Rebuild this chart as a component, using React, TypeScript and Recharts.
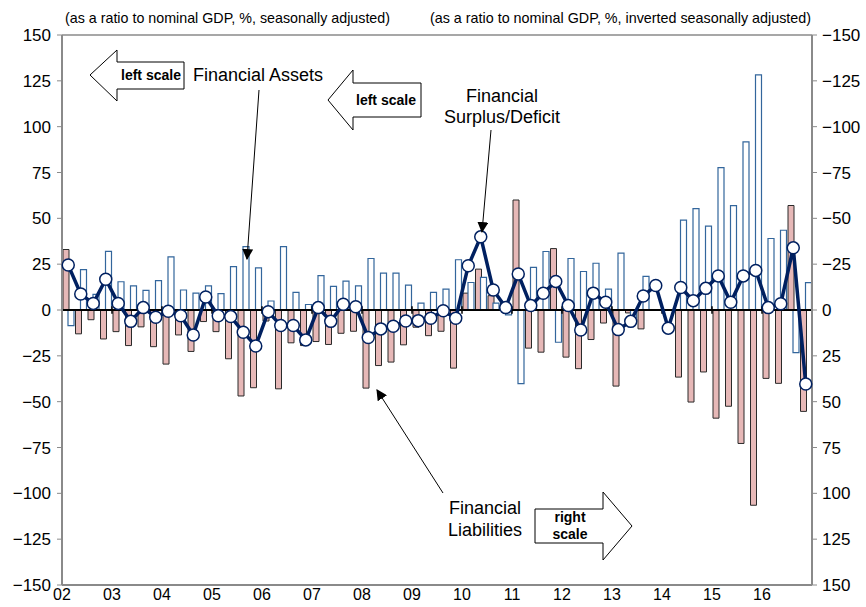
import React from 'react'
import { ComposedChart, Bar, Line, XAxis, YAxis, ReferenceLine } from 'recharts'

const years = ['02', '03', '04', '05', '06', '07', '08', '09', '10', '11', '12', '13', '14', '15', '16']
const quarterNames = ['Q1', 'Q2', 'Q3', 'Q4']

// Financial Assets, left scale
const assets = [
  -8.5, 22, 8.5, 32, 15.4, 13.2, 10.7, 16, 29, 10.9, 9.2, 13.2, 8.9, 23.7, 34.6, 23,
  4.9, 34.6, 9.6, 3, 18.7, 12.9, 15.8, 13.2, 28.1, 20.1, 20.1, 13.6, 3.8, 9.6, 11.4, 27.4,
  15, 17.8, 3.8, -2.7, -40.2, 23.2, 31.9, -17.6, 28.1, 21, 25.5, 11.4, 31, -4, 18.3, 0,
  0, 49, 55.3, 45.8, 77.7, 56.9, 91.7, 128.3, 39, 43.5, -23.2, 14.9,
]

// Financial Liabilities, right scale (inverted)
const liabilities = [
  -33, 13, 5.3, 15.8, 11.8, 19.4, 9.2, 20, 29.5, 13.6, 22.6, 6.3, 11.8, 26.6, 46.9, 42.4,
  6, 43, 17.9, 19.4, 17.2, 18.8, 12.7, 11.6, 42.6, 30.3, 28.4, 19, 9.4, 14, 11.6, 31.7,
  -9.2, -22.3, -7.8, -4, -60, 20.8, 23, -33.5, 25.7, 32, 16.1, 7.1, 41.5, 1.6, 10.3, 0,
  0, 36.6, 50.2, 33.8, 59, 52.5, 72.8, 106.5, 37.3, 40, -57, 55.3,
]

// Financial Surplus/Deficit, left scale
const surplus = [
  24.5, 8.7, 3.6, 16.8, 3.6, -6.2, 1.3, -4, -0.7, -3.1, -13.6, 7.1, -3.1, -3.6, -12.1, -19.6,
  -0.9, -8.5, -8.5, -16.3, 1.3, -6.2, 3.1, 1.8, -15, -10.3, -8.9, -6, -5.8, -4.5, -0.4, -4.5,
  24.1, 39.9, 10.9, 1.3, 19.6, 2.4, 9.1, 15.6, 2.4, -10.9, 9.2, 4.2, -10.7, -6.2, 7.6, 13.4,
  -9.9, 12.3, 5.1, 11.8, 18.6, 4.2, 18.6, 21.6, 1.3, 3.4, 33.9, -40.4,
]

const yTicks = [-150, -125, -100, -75, -50, -25, 0, 25, 50, 75, 100, 125, 150]

const quarters = years.flatMap((y) => quarterNames.map((q) => `${y}${q}`))
const data = quarters.map((q, i) => ({
  pos: i + 0.5,
  q,
  assets: assets[i],
  liabilities: liabilities[i],
  surplus: surplus[i],
}))
const yearTicks = years.map((_, i) => i * 4)

const fmt = (v: number) => (v < 0 ? `\u2212${Math.abs(v)}` : `${v}`)
const FONT = '"Liberation Sans", Arial, Helvetica, sans-serif'
const AXIS_GRAY = '#8a8a8a'

function Annotations() {
  return (
    <svg width={866} height={607} style={{ position: 'absolute', left: 0, top: 0, pointerEvents: 'none', fontFamily: FONT }}>
      <defs>
        <marker id="head" viewBox="0 0 10 10" refX="9" refY="5" markerWidth="11" markerHeight="11" markerUnits="userSpaceOnUse" orient="auto">
          <path d="M0,0 L10,5 L0,10 z" fill="#000" />
        </marker>
      </defs>

      <text x={65} y={23} fontSize={14.2} fill="#000" textLength={325} lengthAdjust="spacingAndGlyphs">(as a ratio to nominal GDP, %, seasonally adjusted)</text>
      <text x={430} y={23} fontSize={14.2} fill="#000" textLength={381} lengthAdjust="spacingAndGlyphs">(as a ratio to nominal GDP, %, inverted seasonally adjusted)</text>

      {/* left scale arrows */}
      <polygon points="90,75 117,50 117,62 184,62 184,89 117,89 117,101" fill="#fff" stroke="#000" strokeWidth={1} />
      <text x={151} y={80} fontSize={14} fontWeight="bold" textAnchor="middle">left scale</text>
      <polygon points="328,100 353,70 353,83 421,83 421,117 353,117 353,130" fill="#fff" stroke="#000" strokeWidth={1} />
      <text x={386} y={105} fontSize={14} fontWeight="bold" textAnchor="middle">left scale</text>

      {/* right scale arrow */}
      <polygon points="535,509 603,509 603,492 632,526 603,560 603,543 535,543" fill="#fff" stroke="#000" strokeWidth={1} />
      <text x={570} y={522} fontSize={14} fontWeight="bold" textAnchor="middle">right</text>
      <text x={570} y={539} fontSize={14} fontWeight="bold" textAnchor="middle">scale</text>

      <text x={258} y={81} fontSize={18} textAnchor="middle">Financial Assets</text>
      <line x1={259} y1={90} x2={247} y2={259} stroke="#000" strokeWidth={1} markerEnd="url(#head)" />

      <text x={502} y={102} fontSize={18} textAnchor="middle">Financial</text>
      <text x={502} y={123} fontSize={18} textAnchor="middle">Surplus/Deficit</text>
      <line x1={491} y1={130} x2={482} y2={232} stroke="#000" strokeWidth={1} markerEnd="url(#head)" />

      <text x={485} y={514} fontSize={18} textAnchor="middle">Financial</text>
      <text x={485} y={536} fontSize={18} textAnchor="middle">Liabilities</text>
      <line x1={443} y1={493} x2={377} y2={390} stroke="#000" strokeWidth={1} markerEnd="url(#head)" />
    </svg>
  )
}

export default function App() {
  return (
    <div style={{ position: 'relative', width: 866, height: 607, background: '#fff', fontFamily: FONT }}>
      <style>{'body{margin:0}'}</style>
      <ComposedChart
        width={866}
        height={607}
        data={data}
        margin={{ top: 35, right: 0, left: 0, bottom: 0 }}
        barGap={-1}
      >
        <XAxis
          dataKey="pos"
          type="number"
          domain={[0, 60]}
          ticks={yearTicks}
          tickFormatter={(v: number) => years[v / 4]}
          interval={0}
          height={22}
          tickLine={false}
          tickSize={0}
          tickMargin={4}
          axisLine={{ stroke: AXIS_GRAY, strokeWidth: 2 }}
          tick={{ fontSize: 16, fill: '#000', fontFamily: FONT }}
        />
        <YAxis
          yAxisId="left"
          domain={[-150, 150]}
          ticks={yTicks}
          interval={0}
          width={62}
          tickSize={5}
          tickMargin={6}
          tickFormatter={fmt}
          axisLine={{ stroke: AXIS_GRAY, strokeWidth: 2 }}
          tickLine={{ stroke: AXIS_GRAY }}
          tick={{ fontSize: 17, fill: '#000', fontFamily: FONT }}
        />
        <YAxis
          yAxisId="right"
          orientation="right"
          reversed
          domain={[-150, 150]}
          ticks={yTicks}
          interval={0}
          width={54}
          tickSize={5}
          tickMargin={5}
          tickFormatter={fmt}
          axisLine={{ stroke: AXIS_GRAY, strokeWidth: 2 }}
          tickLine={{ stroke: AXIS_GRAY }}
          tick={{ fontSize: 17, fill: '#000', fontFamily: FONT }}
        />
        <ReferenceLine yAxisId="left" y={150} stroke={AXIS_GRAY} strokeWidth={1.5} />

        <Bar
          yAxisId="right"
          dataKey="liabilities"
          name="Financial Liabilities"
          fill="#e6b8b7"
          stroke="#2a2a2a"
          strokeWidth={1}
          barSize={6}
          isAnimationActive={false}
        />
        <Bar
          yAxisId="left"
          dataKey="assets"
          name="Financial Assets"
          fill="#ffffff"
          stroke="#33669c"
          strokeWidth={1.2}
          barSize={6}
          isAnimationActive={false}
        />

        <ReferenceLine yAxisId="left" y={0} stroke="#000" strokeWidth={2} />
        {yearTicks.slice(1).map((t) => (
          <ReferenceLine
            key={t}
            yAxisId="left"
            segment={[{ x: t, y: -2 }, { x: t, y: 2 }]}
            stroke="#000"
            strokeWidth={1.5}
          />
        ))}

        <Line
          yAxisId="left"
          dataKey="surplus"
          name="Financial Surplus/Deficit"
          stroke="#002060"
          strokeWidth={3.5}
          dot={{ r: 6, fill: '#fff', stroke: '#002060', strokeWidth: 1.5 }}
          isAnimationActive={false}
        />
      </ComposedChart>
      <Annotations />
    </div>
  )
}
